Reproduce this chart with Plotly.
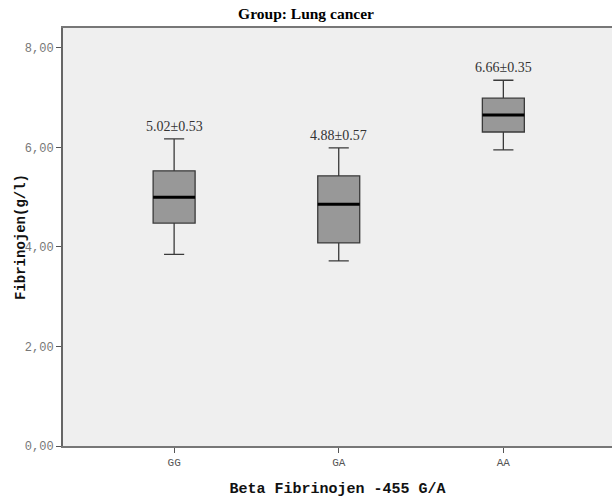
import plotly.graph_objects as go

categories = ["GG", "GA", "AA"]
lower_whisker = [3.85, 3.72, 5.95]
q1 = [4.48, 4.08, 6.31]
median = [5.00, 4.86, 6.65]
q3 = [5.53, 5.43, 6.99]
upper_whisker = [6.17, 5.99, 7.35]
labels = ["5.02±0.53", "4.88±0.57", "6.66±0.35"]
label_y = [6.42, 6.24, 7.6]
ytick_vals = [0, 2, 4, 6, 8]
ytick_text = ["0,00", "2,00", "4,00", "6,00", "8,00"]
y_title = "Fibrinojen(g/l)"

box_w = 0.255
fig = go.Figure()
for i, c in enumerate(categories):
    fig.add_trace(go.Box(
        x=[i], q1=[q1[i]], median=[median[i]], q3=[q3[i]],
        lowerfence=[lower_whisker[i]], upperfence=[upper_whisker[i]],
        width=box_w, whiskerwidth=0.48,
        fillcolor="#989898", line=dict(color="#3a3a3a", width=1.3),
        boxpoints=False, showlegend=False, hoverinfo="skip",
    ))
    fig.add_trace(go.Scatter(
        x=[i - box_w / 2, i + box_w / 2], y=[median[i], median[i]],
        mode="lines", line=dict(color="#000000", width=3),
        showlegend=False, hoverinfo="skip",
    ))
    fig.add_annotation(x=i, y=label_y[i], text=labels[i], showarrow=False,
                       font=dict(family="Liberation Serif", size=14, color="#333333"))

fig.add_annotation(xref="paper", yref="paper", x=-0.0765, y=0.5,
                   text="<b>" + y_title + "</b>", textangle=-90, showarrow=False,
                   xanchor="center", yanchor="middle",
                   font=dict(family="Liberation Mono", size=14, color="#111111"))

fig.update_layout(
    width=612, height=500,
    margin=dict(l=63, r=0, t=28, b=54),
    paper_bgcolor="white", plot_bgcolor="#efefef",
    title=dict(text="<b>Group: Lung cancer</b>", x=0.5, xanchor="center",
               y=0.972, yanchor="middle",
               font=dict(family="Liberation Serif", size=15.5, color="#000000")),
    xaxis=dict(
        range=[-0.675, 2.66], tickvals=[0, 1, 2], ticktext=categories,
        ticks="outside", ticklen=5, tickcolor="#555555", tickwidth=1,
        showline=True, linecolor="#777777", linewidth=2, mirror=True,
        showgrid=False, zeroline=False,
        tickfont=dict(family="Liberation Mono", size=11, color="#555555"),
        title=dict(text="<b>Beta Fibrinojen -455 G/A</b>", standoff=14,
                   font=dict(family="Liberation Mono", size=15, color="#111111")),
    ),
    yaxis=dict(
        range=[0, 8.4], tickvals=ytick_vals, ticktext=ytick_text,
        ticks="outside", ticklen=5, tickcolor="#555555", tickwidth=1,
        showline=True, linecolor="#666666", linewidth=2, mirror=False,
        showgrid=False, zeroline=False,
        tickfont=dict(family="Liberation Mono", size=12, color="#777777"),
    ),
)
fig.write_html("out.html")
